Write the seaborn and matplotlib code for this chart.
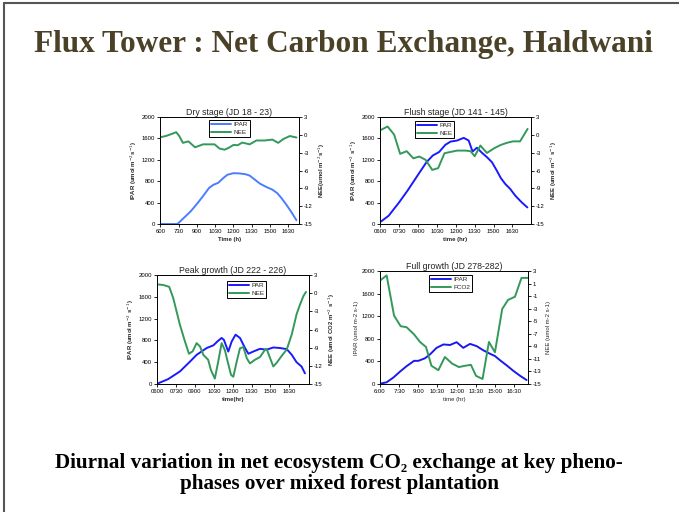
import matplotlib
matplotlib.use("Agg")
import matplotlib.pyplot as plt
import numpy as np
import pandas as pd
import seaborn as sns

sns.set_theme(style="white")
plt.rcParams["font.family"] = ["Liberation Sans", "DejaVu Sans"]
plt.rcParams["axes.unicode_minus"] = False

# ---------------- data (time in decimal hours) ----------------
# Dry stage (JD 18 - 23)
dry_par_t = [6.0, 6.5, 7.0, 7.4, 8.0, 8.5, 9.0, 9.5, 10.0, 10.33, 10.75, 11.17, 11.5, 12.0, 12.5,
             13.0, 13.33, 13.75, 14.17, 14.67, 15.17, 15.58, 15.92, 16.33, 16.75, 17.17]
dry_par = [0, 0, 0, 0, 130, 240, 375, 520, 675, 730, 770, 860, 920, 950, 945,
           930, 905, 830, 755, 695, 645, 580, 490, 365, 225, 70]
dry_nee_t = [6.0, 6.45, 7.0, 7.3, 7.55, 7.85, 8.3, 8.85, 9.5, 10.0, 10.45, 10.85, 11.27, 11.6,
             12.0, 12.35, 12.72, 13.33, 13.88, 14.57, 15.2, 15.67, 16.1, 16.63, 17.17]
dry_nee = [-0.4, -0.2, 0.2, 0.45, -0.2, -1.35, -1.1, -2.1, -1.6, -1.6, -1.6, -2.3, -2.5, -2.2,
           -1.7, -1.75, -1.3, -1.6, -0.95, -0.95, -0.8, -1.35, -0.7, -0.2, -0.45]

# Flush stage (JD 141 - 145)
flush_par_t = [6.08, 6.67, 7.5, 8.17, 9.0, 9.67, 10.17, 10.67, 11.17, 11.58, 12.1, 12.63, 13.02,
               13.33, 13.67, 14.08, 14.47, 14.87, 15.25, 15.57, 15.92, 16.32, 16.72, 17.23, 17.68]
flush_par = [50, 155, 405, 625, 920, 1155, 1280, 1345, 1480, 1540, 1560, 1610, 1560,
             1355, 1425, 1330, 1250, 1155, 1000, 860, 750, 655, 530, 405, 310]
flush_nee_t = [6.08, 6.58, 7.1, 7.58, 8.1, 8.63, 9.1, 9.6, 10.13, 10.6, 11.1, 11.53, 12.1,
               12.77, 13.17, 13.5, 13.95, 14.47, 15.05, 15.57, 16.05, 16.53, 17.1, 17.7]
flush_nee = [0.85, 1.4, 0.05, -3.2, -2.75, -3.95, -3.65, -4.2, -5.9, -5.6, -3.1, -2.9, -2.65,
             -2.65, -2.75, -3.6, -1.8, -3.05, -2.25, -1.7, -1.35, -1.1, -1.1, 1.0]

# Peak growth (JD 222 - 226)
peak_par_t = [6.0, 6.87, 7.8, 8.6, 9.13, 9.93, 10.47, 10.78, 11.12, 11.3, 11.65, 11.92, 12.23,
              12.58, 12.98, 13.25, 13.63, 14.17, 14.7, 15.23, 15.77, 16.3, 16.7, 17.08, 17.48, 17.75]
peak_par = [5, 90, 230, 410, 535, 660, 710, 780, 845, 810, 595, 780, 905,
            845, 660, 555, 595, 645, 630, 670, 660, 640, 535, 400, 320, 195]
peak_nee_t = [6.0, 6.48, 6.95, 7.27, 7.8, 8.2, 8.52, 8.82, 9.13, 9.4, 9.67, 10.05, 10.27, 10.58,
              10.85, 11.12, 11.38, 11.6, 11.87, 12.05, 12.32, 12.58, 12.85, 13.12, 13.37, 13.77,
              14.17, 14.57, 14.7, 14.97, 15.23, 15.5, 15.88, 16.3, 16.7, 17.08, 17.35, 17.62, 17.83]
peak_nee = [1.45, 1.35, 1.05, -0.8, -5.2, -7.95, -10.0, -9.6, -8.25, -8.8, -10.2, -11.0, -12.7, -14.1,
            -11.3, -8.25, -9.4, -11.3, -13.5, -13.8, -11.3, -9.1, -8.9, -10.75, -11.6, -11.0,
            -10.55, -9.35, -9.2, -10.7, -12.1, -11.5, -10.4, -9.3, -6.8, -3.5, -1.9, -0.5, 0.2]

# Full growth (JD 278-282)
full_par_t = [6.0, 6.52, 7.05, 7.57, 8.08, 8.67, 9.0, 9.52, 9.92, 10.43, 10.97, 11.48, 12.0,
              12.52, 13.05, 13.57, 14.1, 14.62, 15.0, 15.4, 15.92, 16.43, 16.97, 17.48]
full_par = [5, 30, 115, 220, 315, 410, 410, 455, 525, 640, 700, 690, 740,
            640, 710, 670, 595, 535, 495, 420, 330, 235, 145, 70]
full_co2_t = [6.05, 6.52, 7.1, 7.62, 8.08, 8.67, 9.13, 9.6, 10.03, 10.57, 11.08, 11.65, 12.18,
              12.65, 13.12, 13.52, 14.03, 14.53, 15.0, 15.57, 16.03, 16.57, 17.08, 17.57]
full_co2 = [1.55, 2.3, -4.1, -5.8, -5.95, -7.1, -8.3, -9.1, -12.1, -12.8, -10.7, -11.75, -12.3,
            -12.1, -11.95, -13.7, -14.2, -8.3, -9.95, -3.05, -1.6, -1.1, 1.9, 1.9]

tick_hours = [6.0, 7.5, 9.0, 10.5, 12.0, 13.5, 15.0, 16.5]
labels_plain = ["600", "730", "900", "1030", "1200", "1330", "1500", "1630"]
labels_zero = ["0600", "0730", "0900", "1030", "1200", "1330", "1500", "1630"]
labels_colon = ["6:00", "7:30", "9:00", "10:30", "12:00", "13:30", "15:00", "16:30"]

W, H = 679, 512
fig = plt.figure(figsize=(W / 100, H / 100), dpi=100)
fig.patch.set_facecolor("white")

GREEN = "#33995a"
SERIF = ["Liberation Serif", "DejaVu Serif"]


def px_axes(left, top, right, bottom):
    return fig.add_axes([left / W, 1 - bottom / H, (right - left) / W, (bottom - top) / H])


def panel(box, title, par_t, par, nee_t, nee, par_name, nee_name, par_color, xlim, xlabels,
          xlabel, ylabel_l, ylabel_r, rticks, bold, leg_xy):
    ax = px_axes(*box)
    ax2 = ax.twinx()
    d1 = pd.DataFrame({"t": par_t, "v": par})
    d2 = pd.DataFrame({"t": nee_t, "v": nee})
    sns.lineplot(data=d1, x="t", y="v", ax=ax, color=par_color, lw=1.4, label=par_name, legend=False)
    sns.lineplot(data=d2, x="t", y="v", ax=ax2, color=GREEN, lw=1.4, label=nee_name, legend=False)
    ax.set_xlim(*xlim)
    ax.set_ylim(0, 2000)
    ax2.set_ylim(-15, 3)
    ax.set_yticks([0, 400, 800, 1200, 1600, 2000])
    ax2.set_yticks(rticks)
    ax.set_xticks(tick_hours)
    ax.set_xticklabels(xlabels)
    fw = "bold" if bold else "normal"
    ax.set_xlabel(xlabel, fontsize=4.3, fontweight=fw, labelpad=2)
    ax.set_ylabel(ylabel_l, fontsize=4.3, fontweight=fw, labelpad=2)
    ax2.set_ylabel(ylabel_r, fontsize=4.3, fontweight=fw, labelpad=3)
    for a in (ax, ax2):
        a.tick_params(axis="both", labelsize=4.3, length=2, width=0.6, pad=1.5, colors="black")
        for s in a.spines.values():
            s.set_linewidth(0.6)
            s.set_color("black")
    ax.tick_params(axis="y", left=True, right=False)
    ax.tick_params(axis="x", bottom=True)
    ax2.tick_params(axis="y", right=True)
    ax.set_title(title, fontsize=6.3, pad=1.5)
    handles = [ax.get_lines()[0], ax2.get_lines()[0]]
    leg = ax2.legend(handles, [par_name, nee_name], loc="upper left",
                     bbox_to_anchor=(leg_xy[0] / W, 1 - leg_xy[1] / H),
                     bbox_transform=fig.transFigure, fontsize=4.6, frameon=True,
                     fancybox=False, framealpha=1, edgecolor="black", borderpad=0.3,
                     handlelength=3.2, handletextpad=0.3, labelspacing=0.3, borderaxespad=0)
    leg.get_frame().set_linewidth(0.7)
    return ax, ax2


panel((160, 117, 299, 224), "Dry stage (JD 18 - 23)", dry_par_t, dry_par, dry_nee_t, dry_nee,
      "IPAR", "NEE", "#4d7dff", (5.97, 17.38), labels_plain, "Time (h)",
      r"IPAR (umol m$^{-2}$s$^{-1}$)", r"NEE(umol m$^{-2}$s$^{-1}$)",
      [3, 0, -3, -6, -9, -12, -15], True, (209, 120))

panel((380, 117, 531, 224), "Flush stage (JD 141 - 145)", flush_par_t, flush_par, flush_nee_t, flush_nee,
      "PAR", "NEE", "#1a1aff", (5.98, 17.97), labels_zero, "time (hr)",
      r"IPAR (umol m$^{-2}$ s$^{-1}$)", r"NEE (umol m$^{-2}$ s$^{-1}$)",
      [3, 0, -3, -6, -9, -12, -15], True, (415, 121))

panel((157, 275, 309, 384), "Peak growth (JD 222 - 226)", peak_par_t, peak_par, peak_nee_t, peak_nee,
      "PAR", "NEE", "#1a1aff", (5.98, 18.07), labels_zero, "time(hr)",
      r"IPAR (umol m$^{-2}$ s$^{-1}$)", r"NEE (umol CO2 m$^{-2}$ s$^{-1}$)",
      [3, 0, -3, -6, -9, -12, -15], True, (227, 281))

panel((380, 271, 528, 384), "Full growth (JD 278-282)", full_par_t, full_par, full_co2_t, full_co2,
      "IPAR", "FCO2", "#1a1aee", (6.0, 17.59), labels_colon, "time (hr)",
      "IPAR (umol m-2 s-1)", "NEE (umol m-2 s-1)",
      [3, 1, -1, -3, -5, -7, -9, -11, -13, -15], False, (429, 275))

# slide frame (left and top edges)
fig.add_artist(plt.Line2D([4 / W, 4 / W], [0, 1 - 3 / H], transform=fig.transFigure,
                          color="#555555", lw=1.5))
fig.add_artist(plt.Line2D([4 / W, 1], [1 - 3 / H, 1 - 3 / H], transform=fig.transFigure,
                          color="#555555", lw=1.5))

fig.text(343 / W, 1 - 51.7 / H, "Flux Tower : Net Carbon Exchange, Haldwani",
         ha="center", va="baseline", fontsize=22.5, fontweight="bold",
         family=SERIF, color="#4a4126")
fig.text(339 / W, 1 - 468 / H,
         "Diurnal variation in net ecosystem CO\u2082 exchange at key pheno-",
         ha="center", va="baseline", fontsize=15.2, fontweight="bold", family=SERIF,
         color="black")
fig.text(339 / W, 1 - 489.5 / H, "phases over mixed forest plantation",
         ha="center", va="baseline", fontsize=15.2, fontweight="bold", family=SERIF,
         color="black")

fig.savefig("out.png", dpi=100)
